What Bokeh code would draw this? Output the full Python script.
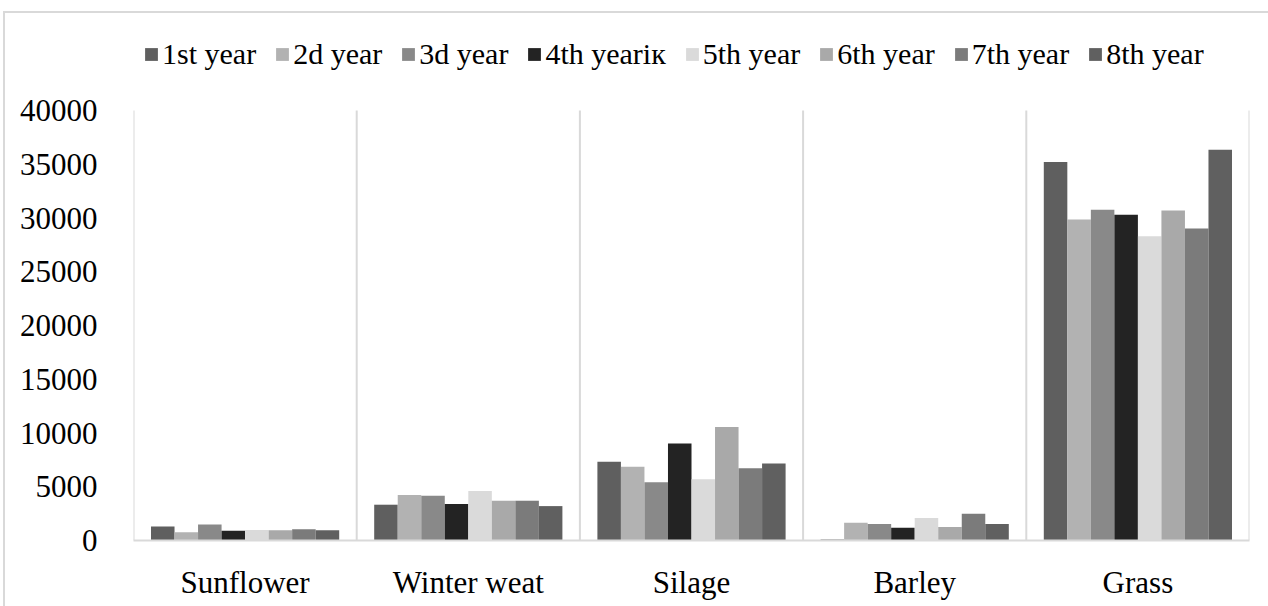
from bokeh.plotting import figure
from bokeh.models import ColumnDataSource, FixedTicker, Legend, LegendItem
from bokeh.transform import dodge
from bokeh.embed import file_html
from bokeh.resources import INLINE

categories = ["Sunflower", "Winter weat", "Silage", "Barley", "Grass"]
series_names = ["1st year", "2d year", "3d year", "4th yeariк", "5th year",
                "6th year", "7th year", "8th year"]
year1 = [1300, 3330, 7320, 100, 35200]
year2 = [760, 4230, 6860, 1650, 29860]
year3 = [1500, 4170, 5410, 1530, 30760]
year4 = [910, 3390, 9030, 1190, 30300]
year5 = [980, 4600, 5690, 2100, 28310]
year6 = [950, 3700, 10550, 1250, 30700]
year7 = [1040, 3700, 6710, 2500, 29020]
year8 = [950, 3200, 7170, 1530, 36340]
colors = ["#5f5f5f", "#b2b2b2", "#898989", "#232323", "#dadada",
          "#a9a9a9", "#7b7b7b", "#606060"]
y_ticks = [0, 5000, 10000, 15000, 20000, 25000, 30000, 35000, 40000]

series = [year1, year2, year3, year4, year5, year6, year7, year8]
FONT = "Liberation Serif"

# layout (pixels): frame spans from FRAME_TOP to AXIS_Y; value axis top at PLOT_TOP
FRAME_TOP, PLOT_TOP, AXIS_Y = 20, 110, 540
y_max = y_ticks[-1]
y_top = y_max * (AXIS_Y - FRAME_TOP) / (AXIS_Y - PLOT_TOP)

data = {"x": [i + 0.5 for i in range(len(categories))], "cat": categories}
for k, s in enumerate(series):
    data[f"y{k}"] = s
source = ColumnDataSource(data)

p = figure(width=1268, height=606, x_range=(0, len(categories)), y_range=(0, y_top),
           output_backend="svg", toolbar_location=None,
           min_border_left=133, min_border_right=19, min_border_top=FRAME_TOP,
           min_border_bottom=606 - AXIS_Y)

# category separators (vertical gridlines) from 0 up to the top tick
bounds = list(range(len(categories) + 1))
p.segment(x0=bounds, x1=bounds, y0=[0] * len(bounds), y1=[y_max] * len(bounds),
          line_color="#d9d9d9", line_width=2)

bar_w = 0.1054
n = len(series)
items = []
for k in range(n):
    off = (k - (n - 1) / 2) * bar_w
    r = p.vbar(x=dodge("x", off, range=p.x_range), top=f"y{k}", width=bar_w,
               source=source, fill_color=colors[k], line_color=None)
    items.append(LegendItem(label=series_names[k], renderers=[r]))

legend = Legend(items=items, orientation="horizontal", location=(10, 469),
                label_text_font=FONT, label_text_font_size="30px",
                label_text_color="#000000", glyph_width=16, glyph_height=16,
                label_standoff=3, spacing=18, padding=0, margin=0,
                border_line_color=None, background_fill_alpha=0)
p.add_layout(legend, "center")

p.xaxis.ticker = FixedTicker(ticks=data["x"])
p.xaxis.major_label_overrides = {x: c for x, c in zip(data["x"], categories)}
p.xaxis.major_label_text_font = FONT
p.xaxis.major_label_text_font_size = "31px"
p.xaxis.major_label_text_color = "#000000"
p.xaxis.major_label_standoff = 18
p.xaxis.axis_line_color = "#d9d9d9"
p.xaxis.axis_line_width = 2
p.xaxis.major_tick_line_color = None
p.xaxis.minor_tick_line_color = None

p.yaxis.ticker = FixedTicker(ticks=y_ticks)
p.yaxis.major_label_text_font = FONT
p.yaxis.major_label_text_font_size = "31px"
p.yaxis.major_label_text_color = "#000000"
p.yaxis.major_label_standoff = 30
p.yaxis.axis_line_color = None
p.yaxis.major_tick_line_color = None
p.yaxis.minor_tick_line_color = None

p.xgrid.grid_line_color = None
p.ygrid.grid_line_color = None
p.outline_line_color = None

# light outer chart border drawn behind a transparent canvas
p.border_fill_alpha = 0
p.background_fill_alpha = 0
p.styles = {
    "background": ("linear-gradient(#d9d9d9,#d9d9d9) 3px 11px / 1265px 2px no-repeat, "
                   "linear-gradient(#d9d9d9,#d9d9d9) 3px 11px / 2px 595px no-repeat, "
                   "#ffffff")
}

open("out.html", "w").write(file_html(p, INLINE))
